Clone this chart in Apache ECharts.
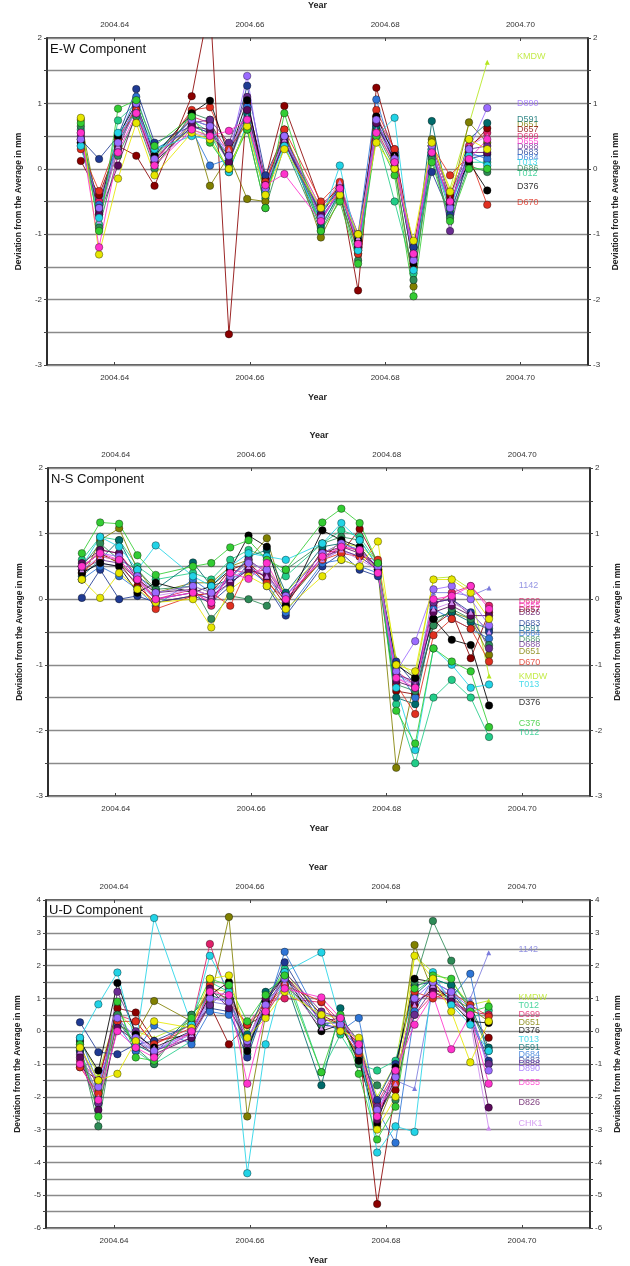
<!DOCTYPE html>
<html><head><meta charset="utf-8">
<script src="https://cdn.jsdelivr.net/npm/echarts@6/dist/echarts.min.js"></script>
<style>html,body{margin:0;padding:0;background:#fff}#c{width:630px;height:1266px}</style>
</head><body><div id="c"></div>
<script>
// decimal-year epochs (daily solutions, two missing days)
const years = [2004.6350,2004.6377,2004.6405,2004.6432,2004.6459,2004.6514,2004.6541,2004.6569,2004.6596,2004.6623,2004.6651,2004.6705,2004.6733,2004.6760,2004.6787,2004.6814,2004.6842,2004.6869,2004.6896,2004.6924,2004.6951];
const xTickValues = [2004.64, 2004.66, 2004.68, 2004.70];
const stations = ['1142','KMDW','T012','D699','D651','D657','D591','D683','D684','D686','D688','D670','D376','D826','CHK1','T013','D890','C376','D375','D655'];
const colors = ['#7b7bdc','#b5e61d','#22cc88','#e0206a','#808000','#8b0000','#006b6b','#1f3a93','#2e75d6','#2e8b57','#6a2c91','#e03020','#000000','#5c0a5c','#cc88ee','#22d3e6','#9b6bff','#33cc33','#e6e600','#ff33cc'];
const symbols = ['triangle','triangle','circle','circle','circle','circle','circle','circle','circle','circle','circle','circle','circle','circle','triangle','circle','circle','circle','circle','circle'];
const panelTitles = ['E-W Component','N-S Component','U-D Component'];

const ewValues = [
[0.45,-0.7,0.35,0.9,0.1,0.65,0.55,0.1,0.8,-0.35,0.4,-0.8,-0.35,-1.2,0.65,0.1,-1.45,0.25,-0.6,0.2,0.2],
[0.55,-0.75,0.5,0.85,0.2,0.6,0.5,0.2,0.75,-0.25,0.55,-0.7,-0.2,-1.1,0.6,0.2,-1.35,0.35,-0.3,null,1.63],
[0.6,-0.85,0.74,1.0,0.25,0.75,0.55,-0.05,0.7,-0.45,0.5,-0.85,-0.4,-1.3,0.55,-0.5,-1.6,0.2,-0.65,0.1,0.1],
[0.4,-0.5,0.45,0.95,0.1,0.8,0.7,0.25,0.9,-0.2,0.5,-0.6,-0.25,-1.0,0.8,0.3,-1.3,0.4,-0.45,0.35,0.55],
[0.75,-0.7,0.3,1.0,0.05,0.7,-0.26,0.2,-0.46,-0.5,0.6,-1.05,-0.45,-1.25,0.6,0.05,-1.8,0.45,-0.5,0.71,0.4],
[0.12,-0.4,0.35,0.2,-0.26,1.11,2.55,-2.53,1.0,-0.15,0.96,-0.55,-0.3,-1.86,1.24,0.25,-1.2,0.35,-0.4,0.3,0.62],
[0.55,-0.6,0.4,0.9,0.2,0.75,0.65,0.1,0.85,-0.4,0.45,-0.9,-0.35,-1.2,0.65,0.2,-1.5,0.73,-0.6,0.45,0.7],
[0.45,0.15,0.5,1.22,0.4,0.65,0.55,0.2,1.27,-0.1,0.5,-0.7,-0.25,-1.05,0.75,0.1,-1.2,-0.05,-0.7,0.15,0.22],
[0.35,-0.55,0.45,1.1,0.3,0.6,0.05,0.15,0.95,-0.3,0.4,-0.65,-0.3,-1.0,1.06,0.15,-1.3,0.2,-0.55,0.25,0.15],
[0.65,-0.9,0.2,0.8,0.0,0.85,0.75,0.05,0.6,-0.6,0.35,-0.95,-0.4,-1.4,0.55,0.0,-1.7,0.15,-0.75,0.05,-0.05],
[0.5,-0.65,0.3,0.95,0.15,0.7,0.75,0.4,1.1,-0.35,0.45,-0.8,-0.3,-1.15,0.7,0.25,-1.4,0.35,-0.95,0.3,0.35],
[0.3,-0.34,0.45,0.9,0.1,0.9,0.94,0.3,0.7,-0.2,0.6,-0.5,-0.2,-1.3,0.9,0.3,-1.5,0.35,-0.1,0.2,-0.55],
[0.4,-0.6,0.5,1.0,0.2,0.85,1.04,0.2,1.05,-0.25,0.5,-0.75,-0.35,-1.1,0.8,0.2,-1.45,0.25,-0.5,0.1,-0.33],
[0.45,-0.7,0.05,0.85,0.1,0.65,0.6,0.1,0.9,-0.3,0.4,-0.7,-0.3,-1.2,0.7,0.1,-1.35,0.3,-0.55,0.25,0.25],
[0.5,-0.8,0.35,0.9,0.15,0.55,0.5,0.3,0.8,-0.25,0.45,-0.6,-0.2,-1.05,0.6,0.2,-1.3,0.4,-0.45,0.35,0.5],
[0.35,-0.75,0.55,0.85,0.3,0.5,0.45,-0.05,0.7,-0.35,0.35,-0.8,0.05,-1.25,0.5,0.78,-1.55,0.3,-0.6,0.2,0.05],
[0.45,-0.6,0.4,1.0,0.15,0.75,0.65,0.2,1.42,-0.3,0.5,-0.75,-0.35,-1.15,0.75,0.15,-1.4,0.35,-0.6,0.3,0.93],
[0.7,-0.95,0.92,1.05,0.35,0.8,0.4,0.0,0.6,-0.6,0.85,-0.95,-0.5,-1.45,0.5,-0.1,-1.95,0.1,-0.8,0.0,0.0],
[0.78,-1.31,-0.15,0.7,-0.1,0.55,0.45,0.0,0.65,-0.4,0.3,-0.6,-0.4,-1.0,0.4,0.0,-1.1,0.4,-0.35,0.45,0.3],
[0.55,-1.2,0.25,0.85,0.05,0.6,0.5,0.58,0.75,-0.25,-0.08,-0.8,-0.3,-1.15,0.55,0.1,-1.3,0.25,-0.5,0.15,0.45]
];
const nsValues = [
[0.4,0.55,0.5,0.25,0.0,0.1,0.0,0.25,0.45,0.35,-0.05,0.6,0.75,0.65,0.45,-1.15,-1.3,0.1,0.1,0.05,0.17],
[0.5,0.7,0.55,0.3,0.1,0.2,0.1,0.35,0.55,0.45,0.1,0.7,0.85,0.8,0.6,-0.9,-1.2,0.32,0.34,0.15,-1.17],
[0.6,0.95,0.9,0.5,0.3,0.4,0.3,0.6,0.75,0.65,0.35,0.85,1.05,0.95,0.55,-1.6,-2.5,-1.5,-1.23,-1.5,-2.1],
[0.45,0.75,0.7,0.35,0.0,0.15,-0.1,0.45,0.4,0.45,0.0,0.6,0.8,0.75,0.5,-1.1,-1.3,-0.1,0.1,0.2,-0.1],
[0.3,0.9,1.08,0.45,0.1,0.25,0.25,0.5,0.6,0.93,-0.05,0.6,0.9,0.7,0.45,-2.57,-1.2,-0.3,-0.2,-0.3,-0.85],
[0.5,0.7,0.55,0.2,-0.05,0.05,0.1,0.45,0.55,0.3,-0.1,0.75,0.7,1.07,0.55,-1.4,-1.45,-0.4,-0.2,-0.9,-0.2],
[0.35,0.6,0.9,0.35,0.15,0.56,0.2,0.3,0.65,0.75,0.1,0.8,0.85,0.75,0.4,-1.5,-1.6,-0.3,-0.2,-0.35,-0.45],
[0.02,0.45,0.0,0.05,-0.05,0.05,-0.05,0.2,0.55,0.2,-0.25,0.5,0.7,0.45,0.35,-0.95,-1.3,-0.05,0.0,-0.2,-0.5],
[0.3,0.5,0.35,0.15,-0.1,0.3,0.1,0.3,0.45,0.25,-0.2,0.55,0.6,0.5,0.4,-1.05,-1.5,-0.15,-0.3,-0.45,-0.6],
[0.5,0.85,0.6,0.45,0.15,0.2,-0.3,0.05,0.0,-0.1,0.45,0.85,0.95,0.9,0.5,-1.3,-1.4,-0.4,-0.15,-0.3,-0.7],
[0.45,0.6,0.55,0.3,0.0,0.1,0.0,0.35,0.6,0.4,-0.05,0.65,0.75,0.65,0.45,-1.15,-1.25,-0.05,0.0,-0.25,-0.75],
[0.4,0.65,0.6,0.3,-0.15,0.05,0.1,-0.1,0.5,0.25,0.0,0.6,0.7,0.65,0.6,-1.3,-1.75,-0.55,-0.3,-0.45,-0.95],
[0.4,0.55,0.5,0.1,0.25,0.1,0.2,0.45,0.97,0.8,-0.1,1.05,0.9,0.8,0.45,-1.0,-1.2,-0.3,-0.62,-0.7,-1.62],
[0.55,0.75,0.7,0.3,0.1,0.15,0.05,0.25,0.45,0.35,0.05,0.7,0.8,0.7,0.5,-1.25,-1.35,-0.2,-0.1,-0.25,-0.25],
[0.45,0.65,0.6,0.3,0.05,0.15,0.05,0.3,0.5,0.35,0.05,0.6,0.75,0.6,0.45,-1.2,-1.3,-0.15,-0.05,-0.2,-0.5],
[0.5,0.95,0.8,0.45,0.82,0.35,0.2,0.5,0.7,0.65,0.6,0.85,1.16,0.9,0.5,-1.35,-2.3,-0.75,-1.0,-1.35,-1.3],
[0.5,0.7,0.65,0.35,0.1,0.2,0.1,0.35,0.55,0.45,0.05,0.7,0.85,0.75,0.5,-1.1,-0.64,0.15,0.2,0.0,-0.4],
[0.7,1.17,1.15,0.67,0.37,0.5,0.55,0.79,0.9,0.6,0.45,1.17,1.38,1.16,0.55,-1.7,-2.2,-0.75,-0.95,-1.1,-1.95],
[0.3,0.02,0.4,0.15,-0.05,0.0,-0.43,0.15,0.35,0.2,-0.15,0.35,0.6,0.5,0.88,-1.0,-1.1,0.3,0.3,0.1,-0.3],
[0.5,0.7,0.6,0.3,0.0,0.1,-0.05,0.4,0.31,0.55,0.0,0.65,0.8,0.75,0.4,-1.2,-1.35,0.0,0.05,0.2,-0.15]
];
const udValues = [
[-0.4,-1.7,0.3,-0.3,-0.6,-0.1,0.9,0.8,-0.5,0.7,1.5,0.2,0.1,-0.7,-2.5,-1.5,-1.75,1.3,1.0,1.0,2.39],
[-0.3,-1.3,0.6,0.0,-0.2,0.3,1.3,1.2,0.0,1.0,1.8,0.5,0.4,-0.3,-2.0,-1.0,2.3,1.8,1.5,0.8,0.93],
[-0.6,-2.2,0.8,-0.6,-1.0,-0.3,1.5,1.2,-0.7,0.9,1.9,-1.25,-0.1,-1.0,-1.2,-0.9,1.2,1.6,1.4,0.4,0.63],
[-0.9,-1.5,0.5,0.3,-0.4,0.2,2.66,1.0,0.2,0.9,1.0,0.88,0.3,-0.5,-2.2,-1.2,0.5,1.1,0.9,0.6,0.5],
[-0.4,-1.8,0.2,-0.1,0.92,0.3,0.9,3.48,-2.6,0.5,1.4,0.4,0.2,-0.8,-2.9,-1.5,2.63,1.2,1.0,0.7,0.3],
[-1.1,-1.5,0.7,0.57,-0.3,-0.1,0.8,-0.4,0.2,0.5,1.7,0.5,0.2,-0.4,-5.27,-1.8,0.8,1.3,1.0,0.5,-0.2],
[-0.6,-2.0,0.3,-0.4,-0.7,0.5,1.1,0.9,-0.1,1.2,1.6,-1.65,0.7,-0.8,-2.6,-1.6,1.1,1.6,1.4,0.8,-0.5],
[0.27,-0.64,-0.7,-0.4,-0.3,0.2,0.7,0.6,-0.8,0.8,2.1,0.2,0.1,-0.5,-2.1,-1.0,1.4,1.5,1.2,0.5,-0.9],
[-0.2,-1.6,0.2,-0.6,0.17,-0.4,0.6,0.5,-0.5,0.6,2.42,0.3,0.0,0.4,-2.4,-3.4,0.6,1.6,1.0,1.75,-1.0],
[-0.5,-2.9,0.5,-0.5,-1.0,0.5,1.2,1.0,-0.5,0.9,1.5,0.2,0.3,-1.0,-1.65,-2.1,1.5,3.36,2.15,0.7,-0.6],
[-0.7,-2.2,1.2,0.0,-0.6,-0.2,0.8,1.3,-0.4,0.6,1.8,0.6,0.4,-0.3,-2.3,-1.3,0.5,1.3,1.1,0.4,-1.0],
[-1.1,-1.9,0.3,0.3,-0.4,0.1,1.4,0.9,0.2,0.7,1.4,0.9,0.1,-0.7,-2.5,-1.6,1.2,1.0,1.2,0.8,0.45],
[-0.3,-1.2,1.47,-0.1,-0.5,0.0,1.1,1.5,-0.6,0.9,1.7,0.0,0.2,-0.9,-2.8,-1.1,1.6,1.5,0.9,0.3,0.25],
[-0.8,-2.4,0.1,-0.3,-0.7,-0.2,1.3,0.7,-0.3,1.0,1.7,0.3,0.4,-0.6,-2.7,-1.4,0.9,1.2,0.9,0.5,-2.33],
[-0.6,-2.0,0.4,-0.2,-0.5,-0.1,1.0,1.0,-0.2,0.8,1.5,0.1,0.2,-0.6,-2.4,-1.6,0.8,1.4,1.1,0.3,-2.95],
[-0.2,0.82,1.79,-0.4,3.45,0.2,2.3,1.2,-4.33,-0.4,1.8,2.4,0.3,-0.3,-3.7,-2.9,-3.07,1.8,0.8,0.2,-0.6],
[-0.5,-1.7,0.4,-0.2,-0.6,0.0,1.0,0.9,-0.3,0.8,1.6,0.3,0.2,-0.6,-2.4,-1.4,1.0,1.5,1.2,0.7,-1.2],
[-0.4,-2.6,0.9,-0.8,-0.9,0.4,1.6,1.4,0.3,1.1,1.7,-1.25,0.5,-1.3,-3.3,-2.3,1.3,1.7,1.6,0.6,0.75],
[-0.5,-1.5,-1.3,-0.3,0.3,0.1,1.6,1.7,-0.2,0.4,1.2,0.5,0.0,-0.2,-3.0,-2.0,2.3,1.6,0.6,-0.95,0.3],
[-1.0,-2.1,0.0,-0.5,-0.8,0.0,1.2,1.1,-1.6,0.6,1.3,1.03,0.4,-0.4,-2.6,-1.2,0.2,1.1,-0.55,0.5,-1.6]
];
// vertical position (mm) of each station's name label at the right; null = no label
const ewLabelY = [null,1.72,-0.07,0.5,0.68,0.6,0.76,0.25,0.17,0.01,0.34,-0.52,-0.27,null,null,0.09,1.0,null,null,0.42];
const nsLabelY = [0.21,-1.18,-2.03,-0.03,-0.79,-0.15,-0.45,-0.37,-0.53,-0.61,-0.69,-0.96,-1.58,-0.21,null,-1.3,null,-1.89,null,-0.09];
const udLabelY = [2.5,1.03,0.78,0.52,0.28,null,-0.5,-0.88,-0.72,null,-1.0,null,0.02,-2.18,-2.82,-0.25,-1.15,null,null,-1.55];
const yRanges = [[-3,2],[-3,2],[-6,4]];

const panelValues = [ewValues, nsValues, udValues];
const panelLabels = [ewLabelY, nsLabelY, udLabelY];
const FONT = "'Liberation Sans', Arial, sans-serif";
const grids = [
  {left:47, right:42, top:37, height:328},
  {left:48, right:37, top:468, height:328},
  {left:46, right:38, top:900, height:330}
].map(g => Object.assign(g, {show:true, borderColor:'#222', borderWidth:1.5, backgroundColor:'#fff'}));

const xAxes = [], yAxes = [], series = [];
const titles = [];
const titleTops = [38, 468, 899];
for (let p = 0; p < 3; p++) {
  ['bottom','top'].forEach(pos => {
    xAxes.push({
      gridIndex:p, type:'value', min:2004.63, max:2004.71, position:pos,
      name:'Year', nameLocation:'middle', nameGap:28,
      nameTextStyle:{fontFamily:FONT, fontWeight:'bold', fontSize:9, color:'#222'},
      axisLine:{show:false, onZero:false},
      axisTick:{show:true, customValues:xTickValues, length:3, inside:true, lineStyle:{color:'#444'}},
      axisLabel:{customValues:xTickValues, formatter:v => v.toFixed(2), fontFamily:FONT, fontSize:8, color:'#333', margin:9},
      splitLine:{show:false}
    });
  });
  ['left','right'].forEach(pos => {
    yAxes.push({
      gridIndex:p, type:'value', min:yRanges[p][0], max:yRanges[p][1], interval:0.5, position:pos,
      name:'Deviation from the Average in mm', nameLocation:'middle', nameGap:pos==='left'?24:22, nameRotate:90,
      nameTextStyle:{fontFamily:FONT, fontWeight:'bold', fontSize:8.5, color:'#222'},
      axisLine:{show:true, onZero:false, lineStyle:{color:'#222', width:1.5}},
      axisTick:{show:true, length:3, lineStyle:{color:'#444'}},
      axisLabel:{formatter:v => Number.isInteger(v) ? String(v) : '', fontFamily:FONT, fontSize:8, color:'#333', margin:5},
      splitLine:{show: pos==='left', lineStyle:{color:'#8a8a8a', width:1.3}}
    });
  });
  titles.push({text:panelTitles[p], left:grids[p].left - 2, top:titleTops[p],
    textStyle:{fontFamily:FONT, fontSize:13, fontWeight:'normal', color:'#111'}});

  const vals = panelValues[p];
  stations.forEach((name, s) => {
    const tri = symbols[s] === 'triangle';
    series.push({
      type:'line', name:name, xAxisIndex:2*p, yAxisIndex:2*p,
      data: years.map((x, i) => [x, vals[s][i] == null ? '-' : vals[s][i]]),
      connectNulls:true, clip:true,
      symbol:symbols[s], symbolSize: tri ? 5 : 7.5, showSymbol:true,
      itemStyle:{color:colors[s], borderColor:'rgba(0,0,0,0.45)', borderWidth: tri ? 0 : 0.8},
      lineStyle:{color:colors[s], width:1, opacity:0.85},
      emphasis:{disabled:true}, animation:false, silent:true
    });
  });
  const labs = panelLabels[p];
  const labData = [];
  stations.forEach((name, s) => {
    if (labs[s] == null) return;
    labData.push({value:[2004.6995, labs[s]], name:name,
      label:{show:true, position:'right', distance:0, formatter:name, color:colors[s],
             fontFamily:FONT, fontSize:9}});
  });
  series.push({type:'scatter', xAxisIndex:2*p, yAxisIndex:2*p, data:labData, symbolSize:0,
    itemStyle:{color:'transparent'}, silent:true, animation:false, z:5});
}

const chart = echarts.init(document.getElementById('c'), null, {renderer:'canvas'});
chart.setOption({
  backgroundColor:'#fff',
  animation:false,
  title:titles,
  grid:grids,
  xAxis:xAxes,
  yAxis:yAxes,
  series:series
});
</script>
</body></html>
